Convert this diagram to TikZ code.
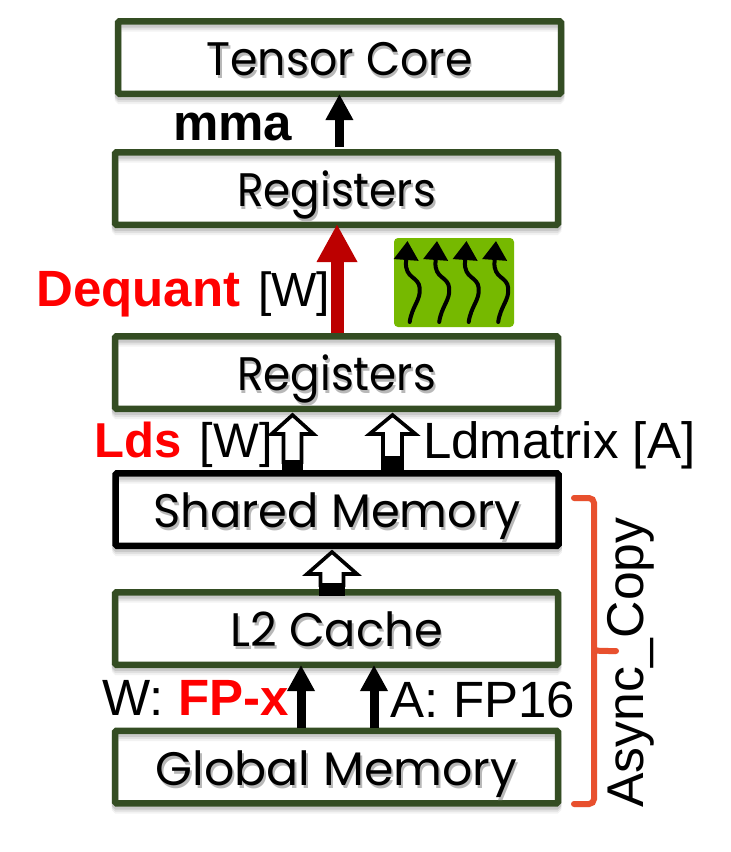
\documentclass[tikz,border=0pt]{standalone}
\usepackage{fontspec}
\setmainfont{Liberation Sans}
\newfontfamily\boxfont{Poppins}
\usetikzlibrary{arrows.meta,calc}
\definecolor{boxgreen}{HTML}{344D23}
\definecolor{bracered}{HTML}{E8502E}
\definecolor{deepred}{HTML}{BC0000}
\definecolor{chipgreen}{HTML}{76B900}
\definecolor{hotred}{HTML}{FF0000}
% box caption with a soft drop shadow under the letters; #1 is the horizontal scale
\newcommand{\captiontext}[2]{\scalebox{#1}[1]{%
  \makebox[0pt][l]{\hspace*{2pt}\raisebox{-3pt}{\textcolor{black!28}{#2}}}%
  #2}}
% hollow block arrow: base coordinate, tip coordinate, head half width, head length, shaft half width, solid foot length
\newcommand{\hollowarrow}[6]{%
  \path let \p1=(#1), \p2=(#2) in
    coordinate (hb) at (\x1,\y1) coordinate (ht) at (\x2,\y2);
  \fill[black] let \p1=(hb) in (\x1-#5pt-1.8pt,\y1) rectangle (\x1+#5pt+1.8pt,\y1+#6pt);
  \draw[black,line width=3.6pt,fill=white,miter limit=4] let \p1=(hb), \p2=(ht) in
    (\x1-#5pt,\y1+#6pt) -- (\x1-#5pt,\y2-#4pt) -- (\x1-#3pt,\y2-#4pt) -- (\x2,\y2-3pt)
    -- (\x1+#3pt,\y2-#4pt) -- (\x1+#5pt,\y2-#4pt) -- (\x1+#5pt,\y1+#6pt) -- cycle;
}
\tikzset{
  layerbox/.style={
    draw=#1, line width=6.5pt, rounded corners=1.5pt, inner sep=0pt,
    minimum width=443pt, minimum height=72.5pt,
    text height=36pt, text depth=0pt,
    font=\boxfont\fontsize{47}{47}\selectfont,
    preaction={draw=black,opacity=.10,transform canvas={yshift=-3pt}},
    preaction={draw=black,opacity=.07,transform canvas={yshift=-5pt}},
    preaction={draw=black,opacity=.05,transform canvas={yshift=-7pt}}},
  layerbox/.default=boxgreen,
  sidelabel/.style={anchor=base west, inner sep=0pt, font=\fontsize{51}{51}\selectfont},
  solidarrow/.style={black, line width=9pt, -{Triangle[length=26pt,width=26pt]}},
  wavyarrow/.style={black, line width=4pt, line cap=round, -{Triangle[length=19pt,width=24pt]}},
  bracestroke/.style={bracered, line width=6pt, line cap=round, rounded corners=5pt,
    preaction={draw=black,opacity=.10,transform canvas={yshift=-3pt}}}
}
\begin{document}
\begin{tikzpicture}[x=1pt,y=-1pt]
\useasboundingbox (0,0) rectangle (731,852);
\fill[white] (0,0) rectangle (731,852);

% memory hierarchy, top to bottom
\node[layerbox] (core) at (339.5,57.5) {\captiontext{.942}{Tensor Core}};
\node[layerbox] (regtop) at (336.5,188.5) {\captiontext{.93}{Registers}};
\node[layerbox] (regbot) at (336.5,372.5) {\captiontext{.93}{Registers}};
\node[layerbox=black] (shared) at (337,509.5) {\captiontext{.987}{Shared Memory}};
\node[layerbox] (l2) at (336.5,628.5) {\captiontext{.985}{L2 Cache}};
\node[layerbox] (global) at (336.5,767) {\captiontext{1.01}{Global Memory}};

% data paths between the levels
\coordinate (xmma) at (339.4,0);
\coordinate (xdeq) at (337,0);
\coordinate (xlds) at (292.5,0);
\coordinate (xldm) at (392.5,0);
\coordinate (xasync) at (332,0);
\coordinate (xfpx) at (301,0);
\coordinate (xfps) at (374,0);

\draw[solidarrow] ([yshift=2pt]regtop.north -| xmma) -- ([yshift=3pt]core.south -| xmma);
\draw[deepred,line width=13pt,-{Triangle[length=38pt,width=38pt]}]
  (regbot.north -| xdeq) -- ([yshift=4pt]regtop.south -| xdeq);
\hollowarrow{shared.north -| xlds}{regbot.south -| xlds}{21}{22}{9}{8}
\hollowarrow{shared.north -| xldm}{regbot.south -| xldm}{23}{22}{9.5}{12}
\hollowarrow{[yshift=-7pt]l2.north -| xasync}{shared.south -| xasync}{25}{25}{11.5}{11}
\draw[solidarrow] (global.north -| xfpx) -- ([yshift=3pt]l2.south -| xfpx);
\draw[solidarrow] (global.north -| xfps) -- ([yshift=3pt]l2.south -| xfps);

% lane icon beside the dequantisation step
\node[fill=chipgreen, rounded corners=4pt, minimum width=120pt, minimum height=89pt, inner sep=0pt] (lanes) at (454,282.5) {};
\foreach \d in {0,29.5,59,88.5}{
  \begin{scope}[xshift=\d pt]
    \draw[wavyarrow] (409.7,322) .. controls (412,306) and (421,300) .. (419.7,288)
      .. controls (418.5,276) and (405,279) .. (406,262) -- (407.5,241);
  \end{scope}
}

% labels
\node[sidelabel, font=\fontsize{51}{51}\selectfont\bfseries] (mma) at (173,140) {mma};
\node[sidelabel] (deq) at (36,306) {\textcolor{hotred}{\bfseries Dequant}\hspace{18pt}\fontsize{48}{48}\selectfont [W]};
\node[sidelabel] (lds) at (94.6,457) {\fontsize{49}{49}\selectfont\textcolor{hotred}{\bfseries Lds}\hspace{18pt}\fontsize{48.5}{49}\selectfont [W]};
\node[sidelabel] (ldm) at (423,458) {Ldmatrix [A]};
\node[sidelabel] (wfp) at (102.5,715) {W: \textcolor{hotred}{\bfseries FP-x}};
\node[sidelabel] (afp) at (390.7,717) {A: FP16};
\node[sidelabel, font=\fontsize{51.7}{52}\selectfont, rotate=90] (async) at (643,808) {Async\_Copy};

% brace around the asynchronous copy levels
\coordinate (bracetop) at (574,498);
\coordinate (bracetip) at (616,651);
\coordinate (bracebot) at (574,804);
\draw[bracestroke] (bracetop) -- (594,498) -- (594,651);
\draw[bracestroke] (bracebot) -- (594,804) -- (594,651);
\draw[bracestroke] (594,648) .. controls (595,651) .. (bracetip);
\end{tikzpicture}
\end{document}
